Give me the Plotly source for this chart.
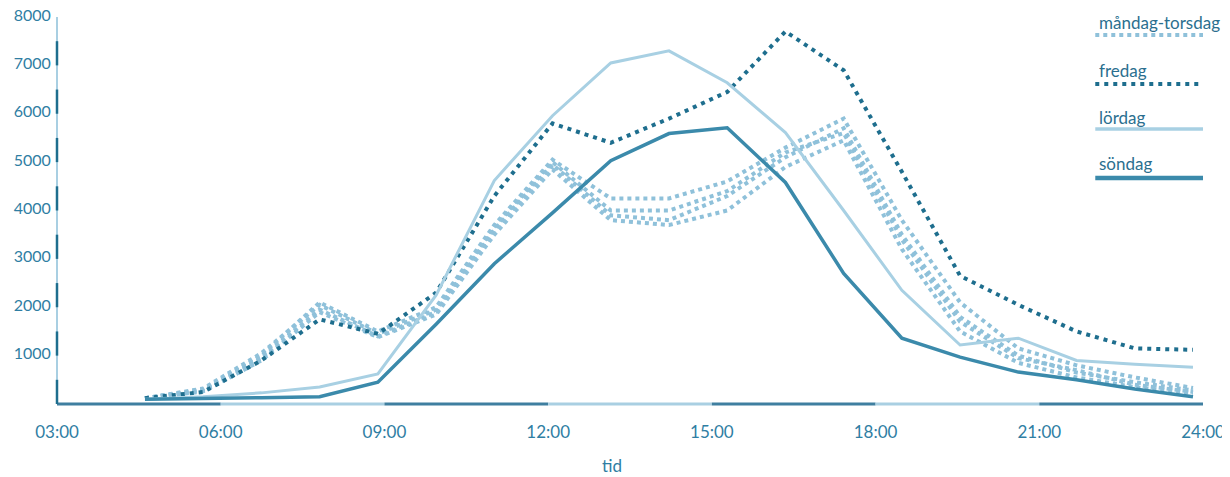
import plotly.graph_objects as go

# ---------------- data ----------------
hours = list(range(5, 24))  # hourly points 05:00 .. 23:00

mandag = [120, 300, 1000, 2100, 1500, 2000, 3700, 5050, 4250, 4250, 4600, 5300, 5900, 3800, 2100, 1150, 800, 550, 330]
tisdag = [120, 280, 950, 1950, 1400, 1900, 3600, 4950, 3900, 3800, 4300, 5100, 5700, 3500, 1800, 1000, 650, 450, 280]
onsdag = [120, 260, 900, 1900, 1380, 1850, 3500, 4850, 3800, 3700, 4000, 4900, 5450, 3200, 1500, 850, 550, 350, 230]
torsdag = [120, 320, 1050, 2050, 1450, 1950, 3650, 5000, 4000, 4000, 4400, 5200, 5600, 3400, 1700, 950, 700, 400, 250]
fredag = [120, 250, 900, 1750, 1450, 2300, 4300, 5800, 5400, 5900, 6450, 7700, 6900, 4800, 2650, 2050, 1500, 1150, 1120]
lordag = [100, 150, 230, 350, 620, 2250, 4620, 5960, 7050, 7300, 6640, 5610, 4000, 2350, 1220, 1360, 900, 820, 760]
sondag = [100, 110, 130, 150, 450, 1650, 2900, 3950, 5030, 5590, 5710, 4580, 2700, 1360, 970, 660, 500, 310, 150]

mon_thu = [mandag, tisdag, onsdag, torsdag]

tick_hours = [3, 6, 9, 12, 15, 18, 21, 24]
tick_text = ["03:00", "06:00", "09:00", "12:00", "15:00", "18:00", "21:00", "24:00"]
y_ticks = [1000, 2000, 3000, 4000, 5000, 6000, 7000, 8000]
legend_names = ["måndag-torsdag", "fredag", "lördag", "söndag"]
x_title = "tid"

# ---------------- styles ----------------
C_MT = "#8fc1da"
C_FR = "#1e6e8e"
C_LO = "#a8d0e3"
C_SO = "#3b8aab"
C_TEXT = "#2f7ea3"
C_LEG = "#2b6f8f"
C_AX_DARK = "#3f7fa0"
C_AX_LIGHT = "#a9cfe2"
FONT = "Lato"

fig = go.Figure()

for i, vals in enumerate(mon_thu):
    fig.add_trace(go.Scatter(
        x=hours, y=vals, mode="lines", name=legend_names[0], showlegend=False,
        line=dict(color=C_MT, width=4, dash="4px,4px"), hoverinfo="skip"))

fig.add_trace(go.Scatter(
    x=hours, y=fredag, mode="lines", name=legend_names[1], showlegend=False,
    line=dict(color=C_FR, width=4, dash="4px,5px")))
fig.add_trace(go.Scatter(
    x=hours, y=lordag, mode="lines", name=legend_names[2], showlegend=False,
    line=dict(color=C_LO, width=3)))
fig.add_trace(go.Scatter(
    x=hours, y=sondag, mode="lines", name=legend_names[3], showlegend=False,
    line=dict(color=C_SO, width=3.5)))

# invisible trace so the clock-tick axis is drawn
fig.add_trace(go.Scatter(
    x=tick_hours, y=[0] * len(tick_hours), xaxis="x2", mode="markers",
    marker=dict(opacity=0), showlegend=False, hoverinfo="skip"))

# ---------------- axes decoration ----------------
shapes = []
# x axis: alternating segments between clock ticks
for k in range(len(tick_hours) - 1):
    shapes.append(dict(type="line", xref="x2", yref="paper",
                       x0=tick_hours[k], x1=tick_hours[k + 1], y0=0, y1=0,
                       line=dict(color=C_AX_DARK if k % 2 == 0 else C_AX_LIGHT, width=3),
                       layer="below"))
# y axis: light line with dark half-step segments
shapes.append(dict(type="line", xref="paper", yref="y", x0=0, x1=0, y0=0, y1=y_ticks[-1],
                   line=dict(color=C_AX_LIGHT, width=2), layer="below"))
for k in [0] + y_ticks[:-1]:
    shapes.append(dict(type="line", xref="paper", yref="y", x0=0, x1=0, y0=k, y1=k + 500,
                       line=dict(color=C_FR, width=2.5), layer="below"))

# custom legend: text above line sample
leg_line_y = [0.9535, 0.827, 0.7106, 0.584]
leg_text_y = [0.987, 0.863, 0.7416, 0.6227]
leg_styles = [
    dict(color=C_MT, width=4, dash="4px,4px"),
    dict(color=C_FR, width=4, dash="4px,5px"),
    dict(color=C_LO, width=3.5),
    dict(color=C_SO, width=4.5),
]
annotations = []
for name, ly, ty, st in zip(legend_names, leg_line_y, leg_text_y, leg_styles):
    shapes.append(dict(type="line", xref="paper", yref="paper", x0=0.906, x1=1.0, y0=ly, y1=ly,
                       line=st))
    annotations.append(dict(xref="paper", yref="paper", x=0.9075, y=ty, text=name,
                            showarrow=False, xanchor="left", yanchor="middle",
                            font=dict(family=FONT, size=17, color=C_LEG)))

annotations.append(dict(xref="paper", yref="paper", x=0.484, y=0, yshift=-61, text=x_title,
                        showarrow=False, xanchor="center", yanchor="middle",
                        font=dict(family=FONT, size=17, color=C_TEXT)))

# the page body adds an 8px margin, so the figure is sized to fit the window
fig.update_layout(
    width=1222, height=469,
    margin=dict(l=49, r=27, t=9, b=73, autoexpand=False),
    paper_bgcolor="white", plot_bgcolor="white",
    showlegend=False,
    font=dict(family=FONT, size=17, color=C_TEXT),
    xaxis=dict(range=[3.489, 23.172], showticklabels=False, showgrid=False,
               zeroline=False, showline=False, ticks="", automargin=False),
    xaxis2=dict(range=[tick_hours[0], tick_hours[-1]], overlaying="x", anchor="y", side="bottom",
                tickvals=tick_hours, ticktext=tick_text, showgrid=False, zeroline=False,
                showline=False, ticks="outside", ticklen=13, tickcolor="rgba(0,0,0,0)",
                ticklabeloverflow="allow", automargin=False,
                tickfont=dict(family=FONT, size=17, color=C_TEXT)),
    yaxis=dict(range=[0, 8000], tickvals=y_ticks, showgrid=False, zeroline=False,
               showline=False, ticks="outside", ticklen=2, tickcolor="rgba(0,0,0,0)",
               ticklabeloverflow="allow", automargin=False, ticklabelshift=-2,
               tickfont=dict(family=FONT, size=16, color=C_TEXT)),
    shapes=shapes,
    annotations=annotations,
)

fig.write_html("out.html")
